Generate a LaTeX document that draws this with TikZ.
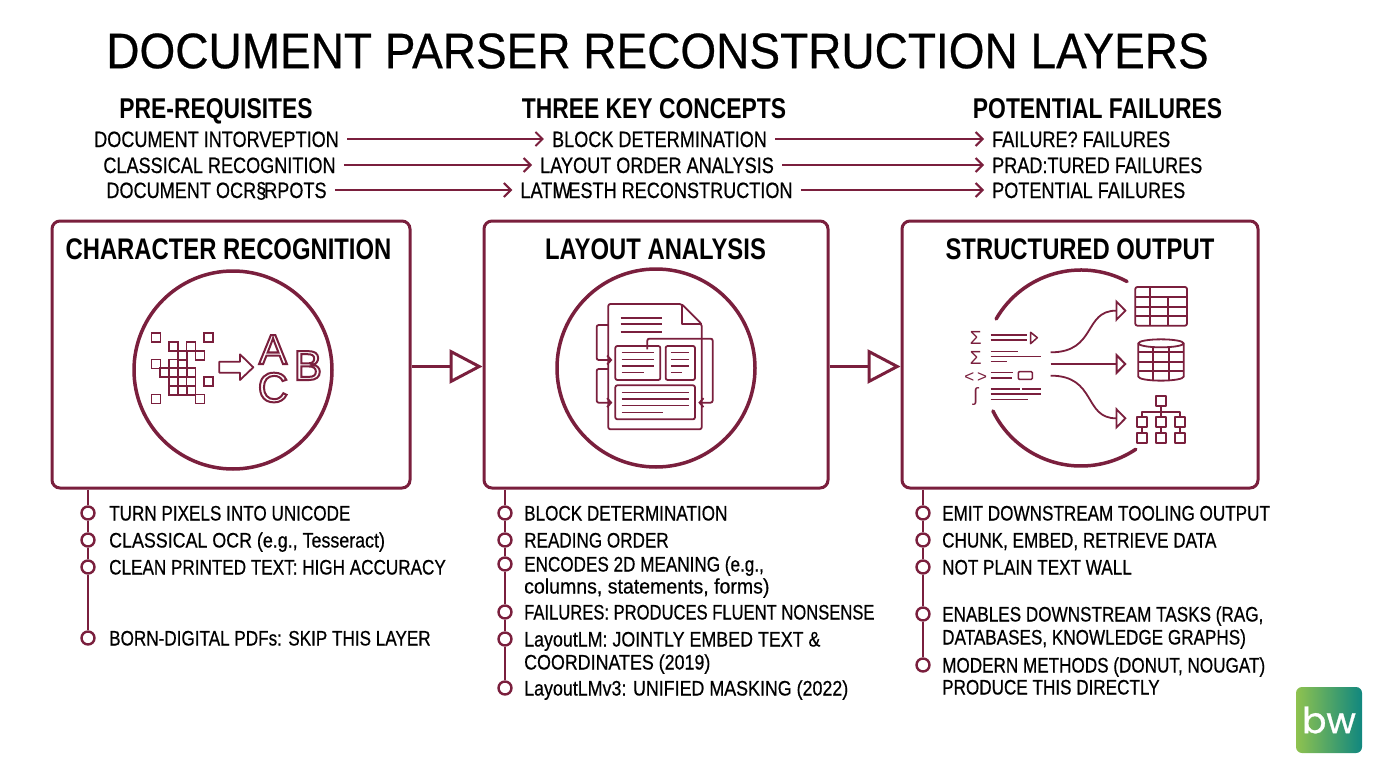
\documentclass[tikz,border=0pt]{standalone}
\usepackage{fontspec}
\setmainfont{Liberation Sans}
\newfontfamily\titlefont[FakeStretch=0.92,FakeBold=0.45]{Liberation Sans}
\newfontfamily\headfont[FakeStretch=0.8]{Liberation Sans}
\newfontfamily\itemfont[FakeStretch=0.815,FakeBold=0.55]{Liberation Sans}
\newfontfamily\tightfont[FakeStretch=0.79,FakeBold=0.55]{Liberation Sans}
\newfontfamily\mixfont[FakeStretch=0.85,FakeBold=0.55]{Liberation Sans}
\newfontfamily\widefont[FakeStretch=0.93,FakeBold=0.55]{Liberation Sans}
\newfontfamily\logofont[FakeBold=0.8]{Poppins}
\usetikzlibrary{arrows.meta}
\definecolor{wine}{HTML}{7A1F3D}
\definecolor{logogreen}{HTML}{8FC24F}
\definecolor{logoteal}{HTML}{10877F}
\newcommand{\outlineletter}[1]{\special{pdf:code q 1 Tr 2 w 0.478 0.122 0.239 RG}#1\special{pdf:code Q}}
\tikzset{
	>={Straight Barb[length=7pt,width=14pt]},
	toptext/.style={font=\itemfont\fontsize{22.2}{25}\selectfont, text=black, inner ysep=0pt, inner xsep=8pt, text height=16pt, text depth=0pt},
	secthead/.style={font=\headfont\bfseries\fontsize{28.6}{31}\selectfont, text=black, inner sep=0pt, text height=20pt, text depth=0pt},
	panel/.style={draw=wine, line width=3pt, rounded corners=8pt, fill=white},
	paneltitle/.style={font=\headfont\bfseries\fontsize{29.8}{32}\selectfont, text=black, inner sep=0pt, text height=21pt, text depth=0pt},
	ring/.style={circle, draw=wine, line width=3.5pt, minimum size=198pt, inner sep=0pt},
	bigarrow/.style={draw=wine, line width=3pt, -{Triangle[open,length=33pt,width=34pt,fill=white]}},
	dot/.style={circle, draw=wine, line width=2.4pt, minimum size=13pt, inner sep=0pt, fill=white},
	stem/.style={draw=wine, line width=2.4pt},
	itemtext/.style={anchor=west, font=\itemfont\fontsize{21}{24}\selectfont, text=black, inner sep=0pt, text height=15pt, text depth=0pt},
	tightitem/.style={itemtext, font=\tightfont\fontsize{21}{24}\selectfont},
	mixitem/.style={itemtext, font=\mixfont\fontsize{21}{24}\selectfont},
	wideitem/.style={itemtext, font=\widefont\fontsize{21}{24}\selectfont},
	letter/.style={font=\fontsize{42}{44}\selectfont, inner sep=0pt, text height=30pt, text depth=0pt},
	icon/.style={draw=wine, line width=1.8pt, line join=round},
	iconthin/.style={draw=wine, line width=1.5pt, line join=round},
	pix/.style={draw=wine, line width=1.6pt, minimum size=9pt, inner sep=0pt},
	mathsign/.style={font=\fontsize{19}{20}\selectfont, text=wine, inner sep=0pt, text height=13pt, text depth=0pt},
	flow/.style={draw=wine, line width=1.8pt, -{Triangle[open,length=11pt,width=22pt,fill=white]}},
}
\begin{document}
\begin{tikzpicture}[x=1pt,y=-1pt]
	\useasboundingbox (0,0) rectangle (1376,768);
	\node [font=\titlefont\fontsize{50}{54}\selectfont, inner sep=0pt] (title) at (657.5,51) {DOCUMENT PARSER RECONSTRUCTION LAYERS};
	% column heads
	\node [secthead] (s1) at (216,108) {PRE-REQUISITES};
	\node [secthead] (s2) at (654,108) {THREE KEY CONCEPTS};
	\node [secthead] (s3) at (1097.5,108) {POTENTIAL FAILURES};
	% top rows
	\node [toptext] (a1) at (216.5,139) {DOCUMENT INTORVEPTION};
	\node [toptext] (b1) at (659.5,139) {BLOCK DETERMINATION};
	\node [toptext,anchor=west] (c1) at (984,139) {FAILURE? FAILURES};
	\node [toptext] (a2) at (219.5,165) {CLASSICAL RECOGNITION};
	\node [toptext] (b2) at (657,165) {LAYOUT ORDER ANALYSIS};
	\node [toptext,anchor=west] (c2) at (984,165) {PRAD:TURED FAILURES};
	\node [toptext] (a3) at (216.5,190) {DOCUMENT OCR§\kern-2pt RPOTS};
	\node [toptext] (b3) at (656.5,190) {LATI\kern-3pt W\kern-3pt ESTH RECONSTRUCTION};
	\node [toptext,anchor=west] (c3) at (984,190) {POTENTIAL FAILURES};
	\draw [->,draw=wine,line width=2pt] (a1) edge (b1);
	\draw [->,draw=wine,line width=2pt] (b1) edge (c1);
	\draw [->,draw=wine,line width=2pt] (a2) edge (b2);
	\draw [->,draw=wine,line width=2pt] (b2) edge (c2);
	\draw [->,draw=wine,line width=2pt] (a3) edge (b3);
	\draw [->,draw=wine,line width=2pt] (b3) edge (c3);
	% panels
	\node [panel,minimum width=358pt,minimum height=267pt] (p1) at (231,354.5) {};
	\node [panel,minimum width=344pt,minimum height=267pt] (p2) at (656,354.5) {};
	\node [panel,minimum width=356pt,minimum height=267pt] (p3) at (1080,354.5) {};
	\node [paneltitle] (t1) at (228.5,249) {CHARACTER RECOGNITION};
	\node [paneltitle] (t2) at (655.5,249) {LAYOUT ANALYSIS};
	\node [paneltitle] (t3) at (1080,249) {STRUCTURED OUTPUT};
	\draw [bigarrow] ([yshift=-12pt]p1.east) -- ([yshift=-12pt]p2.west);
	\draw [bigarrow] ([yshift=-12pt]p2.east) -- ([yshift=-12pt]p3.west);
	\node [ring] (r1) at (233,370) {};
	\node [ring] (r2) at (656,368) {};
	% pixels to letters
	\begin{scope}[shift={(156,337.7)},x=8.77pt,y=-8.77pt]
		\node [pix] (q1) at (0,0) {};
		\node [pix] (q2) at (6,0) {};
		\node [pix] (q3) at (2,1) {};
		\node [pix] (q4) at (4,1) {};
		\node [pix] (q5) at (3,2) {};
		\node [pix] (q6) at (5,2) {};
		\node [pix] (q7) at (0,3) {};
		\node [pix] (q8) at (2,3) {};
		\node [pix] (q9) at (3,3) {};
		\node [pix] (q10) at (1,4) {};
		\node [pix] (q11) at (2,4) {};
		\node [pix] (q12) at (3,4) {};
		\node [pix] (q13) at (4,4) {};
		\node [pix] (q14) at (2,5) {};
		\node [pix] (q15) at (4,5) {};
		\node [pix] (q16) at (6,5) {};
		\node [pix] (q17) at (2,6) {};
		\node [pix] (q18) at (3,6) {};
		\node [pix] (q19) at (4,6) {};
		\node [pix] (q20) at (0,7) {};
		\node [pix] (q21) at (5,7) {};
	\end{scope}
	\begin{scope}[shift={(120,290)},x=0.3333pt,y=-0.3333pt]
		\draw [icon] (298,215) -- (360,215) -- (360,193) -- (400,232) -- (360,270) -- (360,248) -- (298,248) -- cycle;
	\end{scope}
	\node [letter] (la) at (273,349) {\outlineletter{A}};
	\node [letter] (lb) at (308,365) {\outlineletter{B}};
	\node [letter] (lc) at (273,387) {\outlineletter{C}};
	% page with blocks
	\begin{scope}[shift={(570,280)},x=0.3333pt,y=-0.3333pt]
		\draw [icon,rounded corners=2pt] (335,72) -- (115,72) -- (115,448) -- (395,448) -- (395,132) -- cycle;
		\draw [icon] (335,72) -- (335,132) -- (395,132);
		\draw [icon] (152,113) -- (277,113) (152,133) -- (277,133) (152,155) -- (277,155);
		\draw [icon,rounded corners=2pt,fill=white] (136,198) rectangle (271,300);
		\draw [icon,rounded corners=2pt,fill=white] (287,198) rectangle (375,300);
		\draw [icon,rounded corners=2pt,fill=white] (136,316) rectangle (375,418);
		\draw [iconthin] (155,218) -- (253,218) (155,238) -- (253,238) (155,258) -- (253,258) (155,278) -- (222,278);
		\draw [iconthin] (303,218) -- (357,218) (303,238) -- (357,238) (303,258) -- (357,258) (303,278) -- (337,278);
		\draw [iconthin] (155,337) -- (357,337) (155,357) -- (357,357) (155,377) -- (357,377) (155,397) -- (280,397);
		\draw [icon,rounded corners=2pt,->,>={Straight Barb[length=4pt,width=9pt]}] (115,135) -- (80,135) -- (80,240) -- (127,240);
		\draw [icon,rounded corners=2pt,->,>={Straight Barb[length=4pt,width=9pt]}] (115,267) -- (80,267) -- (80,368) -- (127,368);
		\draw [icon,rounded corners=2pt,->,>={Straight Barb[length=4pt,width=9pt]}] (232,208) -- (232,176) -- (428,176) -- (428,368) -- (385,368);
	\end{scope}
	% output ring in two arcs
	\coordinate (r3) at (1081,368);
	\draw [draw=wine,line width=3.5pt,line cap=round] ([shift={(-150:98)}]r3) arc [start angle=-150,end angle=-62,radius=98];
	\draw [draw=wine,line width=3.5pt,line cap=round] ([shift={(-206:98)}]r3) arc [start angle=-206,end angle=-304,radius=98];
	% sources, targets
	\begin{scope}[shift={(950,265)},x=0.3333pt,y=-0.3333pt]
		\node [mathsign] (m1) at (77,218) {Σ};
		\node [mathsign] (m2) at (77,280) {Σ};
		\node [mathsign,font=\fontsize{17}{18}\selectfont] (m3) at (77,332) {<\,>};
		\node [mathsign] (m4) at (77,390) {∫};
		\draw [iconthin] (122,210) -- (230,210) (122,225) -- (230,225);
		\draw [iconthin] (242,202) -- (262,218) -- (242,236) -- cycle;
		\draw [iconthin] (122,260) -- (205,260) (122,275) -- (272,275) (122,290) -- (172,290);
		\draw [iconthin] (122,323) -- (190,323) (122,339) -- (185,339);
		\draw [iconthin,rounded corners=1pt] (205,320) rectangle (247,343);
		\draw [iconthin] (122,372) -- (210,372) (215,372) -- (272,372) (122,387) -- (272,387) (122,403) -- (235,403);
		\coordinate (f1) at (302,262);
		\coordinate (f2) at (302,297);
		\coordinate (f3) at (302,332);
		\coordinate (g1) at (530,137);
		\coordinate (g2) at (530,297);
		\coordinate (g3) at (530,460);
		\draw [flow] (f1) .. controls (440,262) and (400,137) .. (g1);
		\draw [flow,line width=2pt] (f2) -- (g2);
		\draw [flow] (f3) .. controls (440,332) and (400,460) .. (g3);
		% table
		\draw [icon,rounded corners=2pt] (556,66) rectangle (711,182);
		\draw [icon] (556,95) -- (711,95) (556,125) -- (711,125) (556,153) -- (711,153) (600,66) -- (600,182) (655,95) -- (655,182);
		% cylinder
		\draw [icon] (565,235) -- (565,335) arc [start angle=180,end angle=0,x radius=68,y radius=12] -- (701,235);
		\draw [icon] (633,235) ellipse [x radius=68,y radius=12];
		\draw [icon] (565,262) -- (701,262) (565,290) -- (701,290) (565,318) -- (701,318) (608,247) -- (608,345) (658,247) -- (658,345);
		% tree
		\node [icon,draw,minimum size=10pt,inner sep=0pt] (n0) at (633,407) {};
		\node [icon,draw,minimum size=10pt,inner sep=0pt] (n1) at (575,471) {};
		\node [icon,draw,minimum size=10pt,inner sep=0pt] (n2) at (633,471) {};
		\node [icon,draw,minimum size=10pt,inner sep=0pt] (n3) at (690,471) {};
		\node [icon,draw,minimum size=10pt,inner sep=0pt] (n4) at (575,518) {};
		\node [icon,draw,minimum size=10pt,inner sep=0pt] (n5) at (633,518) {};
		\node [icon,draw,minimum size=10pt,inner sep=0pt] (n6) at (690,518) {};
		\draw [icon] (n0) -- (n2);
		\draw [icon] (n1.north) |- (633,440) -| (n3.north);
		\draw [icon] (n1) -- (n4);
		\draw [icon] (n2) -- (n5);
		\draw [icon] (n3) -- (n6);
	\end{scope}
	% first list
	\node [dot] (d11) at (88,513) {};
	\node [dot] (d12) at (88,540) {};
	\node [dot] (d13) at (88,567) {};
	\node [dot] (d14) at (88,638) {};
	\draw [stem] (d11 |- p1.south) -- (d11);
	\draw [stem] (d11) -- (d12);
	\draw [stem] (d12) -- (d13);
	\draw [stem] (d13) -- (d14);
	\node [itemtext] (l11) at (109,513) {TURN PIXELS INTO UNICODE};
	\node [mixitem] (l12) at (109,540) {CLASSICAL OCR (e.g., Tesseract)};
	\node [itemtext] (l13) at (109,567) {CLEAN PRINTED TEXT: HIGH ACCURACY};
	\node [itemtext] (l14) at (109,638) {BORN-DIGITAL PDFs: SKIP THIS LAYER};
	% second list
	\node [dot] (d21) at (505,513) {};
	\node [dot] (d22) at (505,540) {};
	\node [dot] (d23) at (505,564) {};
	\node [dot] (d24) at (505,612) {};
	\node [dot] (d25) at (505,639) {};
	\node [dot] (d26) at (505,688) {};
	\draw [stem] (d21 |- p2.south) -- (d21);
	\draw [stem] (d21) -- (d22);
	\draw [stem] (d22) -- (d23);
	\draw [stem] (d23) -- (d24);
	\draw [stem] (d24) -- (d25);
	\draw [stem] (d25) -- (d26);
	\node [itemtext] (l21) at (524,513) {BLOCK DETERMINATION};
	\node [itemtext] (l22) at (524,540) {READING ORDER};
	\node [itemtext] (l23) at (524,564) {ENCODES 2D MEANING (e.g.,};
	\node [wideitem] (l23b) at (524,586) {columns, statements, forms)};
	\node [tightitem] (l24) at (524,612) {FAILURES: PRODUCES FLUENT NONSENSE};
	\node [mixitem] (l25) at (524,639) {LayoutLM: JOINTLY EMBED TEXT \&};
	\node [mixitem] (l25b) at (524,662) {COORDINATES (2019)};
	\node [mixitem] (l26) at (524,688) {LayoutLMv3: UNIFIED MASKING (2022)};
	% third list
	\node [dot] (d31) at (923,513) {};
	\node [dot] (d32) at (923,540) {};
	\node [dot] (d33) at (923,567) {};
	\node [dot] (d34) at (923,614) {};
	\node [dot] (d35) at (923,665) {};
	\draw [stem] (d31 |- p3.south) -- (d31);
	\draw [stem] (d31) -- (d32);
	\draw [stem] (d32) -- (d33);
	\draw [stem] (d33) -- (d34);
	\draw [stem] (d34) -- (d35);
	\node [itemtext] (l31) at (942,513) {EMIT DOWNSTREAM TOOLING OUTPUT};
	\node [itemtext] (l32) at (942,540) {CHUNK, EMBED, RETRIEVE DATA};
	\node [itemtext] (l33) at (942,567) {NOT PLAIN TEXT WALL};
	\node [itemtext] (l34) at (942,614) {ENABLES DOWNSTREAM TASKS (RAG,};
	\node [itemtext] (l34b) at (942,637) {DATABASES, KNOWLEDGE GRAPHS)};
	\node [itemtext] (l35) at (942,665) {MODERN METHODS (DONUT, NOUGAT)};
	\node [itemtext] (l35b) at (942,687) {PRODUCE THIS DIRECTLY};
	% logo
	\node [rounded corners=6pt,minimum size=66pt,inner sep=0pt,left color=logogreen,right color=logoteal] (logo) at (1329,720) {};
	\node [font=\logofont\fontsize{36}{38}\selectfont,text=white,inner sep=0pt] (bw) at (logo) {bw};
\end{tikzpicture}
\end{document}
